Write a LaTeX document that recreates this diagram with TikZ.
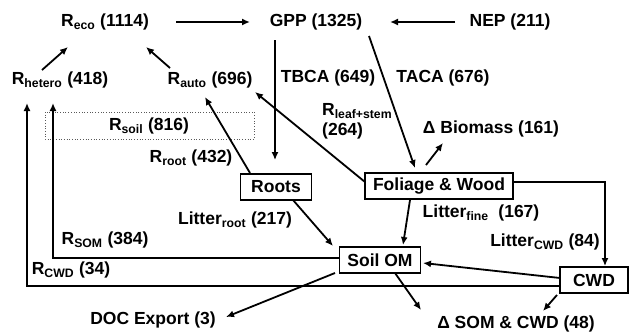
\documentclass[tikz,border=0pt]{standalone}
\usepackage{fontspec}
\setmainfont{Liberation Sans}
\usetikzlibrary{arrows.meta}
\newcommand{\sbs}[1]{\textsubscript{#1}}
\begin{document}
\begin{tikzpicture}[x=1pt,y=-1pt,
  every node/.style={font=\fontsize{17.5}{19}\selectfont\bfseries, inner sep=1pt},
  box/.style={draw, line width=1.8pt, inner xsep=6pt, inner ysep=2pt, minimum height=26pt},
  arr/.style={line width=1.8pt, -{Latex[length=8pt,width=7pt]}},
  ln/.style={line width=1.8pt}]
\useasboundingbox (0,0) rectangle (630,335);
% dashed soil box
\draw[dotted, line width=0.7pt, gray!70!black] (45,112) rectangle (254,139);
\node (rsoil) at (149,126) {R\sbs{soil} (816)};
% nodes
\node (reco) at (105,22) {R\sbs{eco} (1114)};
\node (gpp) at (316,22) {GPP (1325)};
\node (nep) at (510,22) {NEP (211)};
\node (rhetero) at (60,80) {R\sbs{hetero} (418)};
\node (rauto) at (210,80) {R\sbs{auto} (696)};
\node (tbca) at (328,78) {TBCA (649)};
\node (taca) at (443,78) {TACA (676)};
\node[anchor=west, align=left] (rleaf) at (321,121) {R\sbs{leaf+stem}\\[1pt](264)};
\node (dbio) at (491,129) {Δ Biomass (161)};
\node (rroot) at (191,158) {R\sbs{root} (432)};
\node[box, minimum width=71pt] (roots) at (276,187) {Roots};
\node[box, minimum width=148pt] (fw) at (439,186) {Foliage \& Wood};
\node (lfine) at (481,213) {Litter\sbs{fine}\ \ (167)};
\node (lroot) at (235,220) {Litter\sbs{root} (217)};
\node (lcwd) at (545,242) {Litter\sbs{CWD} (84)};
\node[box, minimum width=81pt] (soilom) at (380,260) {Soil OM};
\node[box, minimum width=68pt] (cwd) at (594,280) {CWD};
\node (rsom) at (105,240) {R\sbs{SOM} (384)};
\node (rcwd) at (71,270) {R\sbs{CWD} (34)};
\node (doc) at (153,320) {DOC Export (3)};
\node (dsom) at (516,324) {Δ SOM \& CWD (48)};
% connectors
\draw[arr] ([shift={(71,0)}]reco.center) -- ([shift={(-66,0)}]gpp.center);
\draw[arr] ([shift={(-55,0)}]nep.center) -- ([shift={(74,0)}]gpp.center);
\draw[arr] ([shift={(-18,-10)}]rhetero.center) -- ([shift={(-37,25)}]reco.center);
\draw[arr] ([shift={(-40,-12)}]rauto.center) -- ([shift={(41,25)}]reco.center);
\draw[arr] ([shift={(-41,18)}]gpp.center) -- ([shift={(-41,-13)}]gpp.center |- roots.north);
\draw[arr] ([shift={(53,14)}]gpp.center) -- ([shift={(-24,-18)}]fw.center);
\draw[arr] ([shift={(-26,-14)}]roots.center) -- ([shift={(-5,17)}]rauto.center);
\draw[arr] ([shift={(-74,-4)}]fw.center) -- ([shift={(45,12)}]rauto.center);
\draw[arr] ([shift={(-13,-21)}]fw.center) -- ([shift={(-48,14)}]dbio.center);
\draw[arr] ([shift={(-29,14)}]fw.center) -- ([shift={(23,-15)}]soilom.center);
\draw[arr] ([shift={(74,-4)}]fw.center) -| ([xshift=11pt]cwd.north);
\draw[arr] ([shift={(17,13)}]roots.center) -- ([shift={(-47,-14)}]soilom.center);
\draw[arr] ([shift={(-34,-2)}]cwd.center) -- ([shift={(43,3)}]soilom.center);
\draw[arr] ([shift={(-40,-2)}]soilom.center) -| ([shift={(-7,23)}]rhetero.center);
\draw[arr] ([shift={(-34,6)}]cwd.center) -| ([shift={(-33,23)}]rhetero.center);
\draw[arr] ([shift={(-45,13)}]soilom.center) -- ([shift={(73,-3)}]doc.center);
\draw[arr] ([shift={(15,13)}]soilom.center) -- ([shift={(-95,-14)}]dsom.center);
\draw[arr] ([shift={(-37,15)}]cwd.center) -- ([shift={(27,-13)}]dsom.center);
\end{tikzpicture}
\end{document}
